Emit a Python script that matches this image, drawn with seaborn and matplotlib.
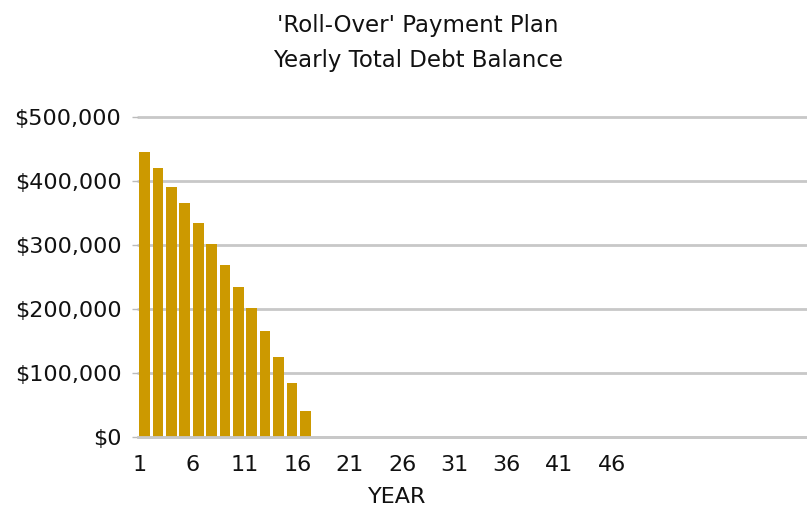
import matplotlib
matplotlib.use("Agg")
import matplotlib.pyplot as plt
import seaborn as sns
import pandas as pd
from matplotlib.ticker import FuncFormatter

# ---- data ----
years = list(range(1, 51))
balance_known = [445000, 421000, 391000, 365000, 335000, 301000, 268000,
                 235000, 201000, 165000, 124500, 84000, 41000]
balances = balance_known + [0] * (len(years) - len(balance_known))
tick_labels = ["1", "6", "11", "16", "21", "26", "31", "36", "41", "46"]
title_lines = ["'Roll-Over' Payment Plan", "Yearly Total Debt Balance"]
x_label = "YEAR"

df = pd.DataFrame({"year": [str(y) for y in years], "balance": balances})

sns.set_theme(style="white")
plt.rcParams["font.family"] = ["DejaVu Sans"]

W, H = 807, 515
fig = plt.figure(figsize=(W / 100, H / 100), dpi=100)
left, right, top, bottom = 138, 807, 117, 437
ax = fig.add_axes([left / W, (H - bottom) / H, (right - left) / W, (bottom - top) / H])

sns.barplot(data=df, x="year", y="balance", color="#CC9900", saturation=1,
            width=0.8, edgecolor="none", ax=ax)

ax.set_xlim(-0.5, len(years) - 0.5)
ax.set_ylim(0, 500000)
ax.set_yticks([0, 100000, 200000, 300000, 400000, 500000])
ax.yaxis.set_major_formatter(FuncFormatter(lambda v, p: f"${v:,.0f}"))
ax.grid(axis="y", color="#C8C8C8", linewidth=2)
ax.set_axisbelow(True)
for gl in ax.get_ygridlines():
    gl.set_clip_on(False)

# tick labels are spaced more tightly than the categories in the reference
px_per_cat = (right - left) / len(years)
label_px = [140 + 52.4 * k for k in range(len(tick_labels))]
ax.set_xticks([(p - left) / px_per_cat - 0.5 for p in label_px])
ax.set_xticklabels(tick_labels)

for s in ["top", "right", "left"]:
    ax.spines[s].set_visible(False)
ax.spines["bottom"].set_color("#C8C8C8")
ax.spines["bottom"].set_linewidth(2)

ax.tick_params(axis="y", which="major", left=True, length=4, width=1,
               color="#BBBBBB", pad=8, labelsize=16, labelcolor="#111111")
ax.tick_params(axis="x", which="major", bottom=False, pad=7,
               labelsize=16, labelcolor="#111111")

ax.set_xlabel("")
ax.set_ylabel("")
fig.text(397 / W, 1 - 497 / H, x_label, ha="center", va="center",
         fontsize=16, color="#111111")

fig.text(418 / W, 1 - 43 / H, "\n".join(title_lines), ha="center", va="center",
         fontsize=16.5, color="#111111", linespacing=1.65)

fig.savefig("out.png", dpi=100, facecolor="white")
